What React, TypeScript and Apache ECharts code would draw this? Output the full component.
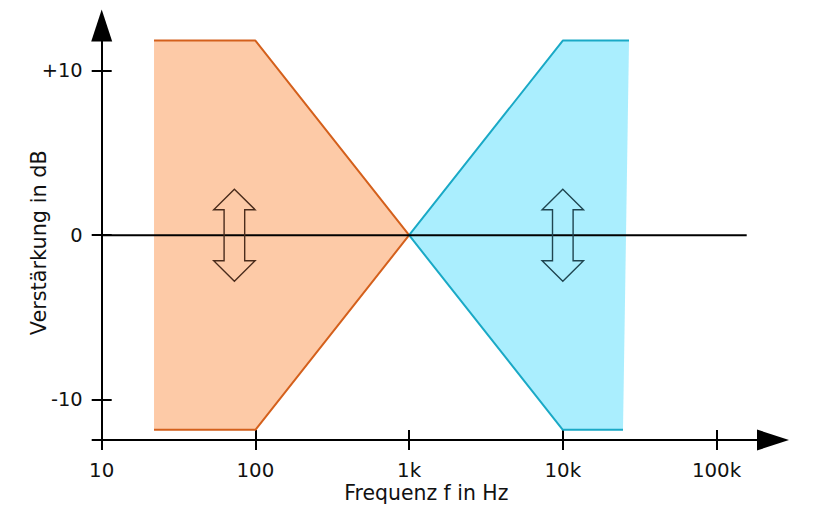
import React, { useEffect, useRef } from "react";
import * as echarts from "echarts";

// Frequency / gain outlines of the two shelving bands
const bassFreq = [21.9, 100, 1000, 100, 21.9];
const bassGain = [11.85, 11.85, 0, -11.85, -11.85];
const trebleFreq = [26960, 10000, 1000, 10000, 24640];
const trebleGain = [11.85, 11.85, 0, -11.85, -11.85];
// 0 dB reference line
const zeroFreq = [10, 157200];
const zeroGain = [0, 0];
// double arrow markers (centres)
const arrowFreq = [73, 10000];
const arrowGain = [0, 0];
// axes
const xTicks = [10, 100, 1000, 10000, 100000];
const yTicks = [-10, 0, 10];
const xMin = 10;
const xMax = 233100;
const yMin = -12.47;
const yMax = 12.77;

const FONT = "DejaVu Sans";

function pairs(xs: number[], ys: number[]) {
  return xs.map((x, i) => [x, ys[i]]);
}

function fmtFreq(v: number) {
  if (v >= 1000) return Math.round(v / 1000) + "k";
  return String(Math.round(v));
}

export default function App() {
  const ref = useRef<HTMLDivElement>(null);
  useEffect(() => {
    if (!ref.current) return;
    const chart = echarts.init(ref.current, null, { renderer: "svg" });
    const bass = pairs(bassFreq, bassGain);
    const treble = pairs(trebleFreq, trebleGain);
    const polyFill = (pts: number[][], fill: string) => ({
      type: "custom",
      coordinateSystem: "cartesian2d",
      xAxisIndex: 0,
      yAxisIndex: 0,
      silent: true,
      z: 1,
      data: pts,
      renderItem: (params: any, api: any) => {
        if (params.dataIndex !== 0) return null;
        return {
          type: "polygon",
          shape: { points: pts.map((p) => api.coord(p)) },
          style: { fill, stroke: "none" },
        };
      },
    });
    const outline = (pts: number[][], color: string) => ({
      type: "line",
      xAxisIndex: 0,
      yAxisIndex: 0,
      data: pts,
      symbol: "none",
      silent: true,
      z: 2,
      lineStyle: { color, width: 2 },
    });
    const hh = 46, hw = 20.7, sw = 10.3, hb = 25.5;
    const arrowShape = [
      [0, -hh], [hw, -hb], [sw, -hb], [sw, hb], [hw, hb], [0, hh],
      [-hw, hb], [-sw, hb], [-sw, -hb], [-hw, -hb],
    ];
    const arrowColors = ["#4a2c1c", "#1f4550"];

    const xAxisBase = {
      type: "log",
      logBase: 10,
      min: xMin,
      max: xMax,
      splitLine: { show: false },
      minorTick: { show: false },
    };
    const yAxisBase = {
      type: "value",
      min: yMin,
      max: yMax,
      position: "left",
      splitLine: { show: false },
    };

    chart.setOption({
      animation: false,
      backgroundColor: "#ffffff",
      grid: {
        left: 101.7,
        right: 46,
        top: 25.5,
        bottom: 72,
        containLabel: false,
        outerBoundsMode: "none",
      },
      xAxis: [
        {
          ...xAxisBase,
          position: "bottom",
          name: "Frequenz f in Hz",
          nameLocation: "middle",
          nameGap: 43.5,
          nameMoveOverlap: false,
          nameTextStyle: {
            fontFamily: FONT,
            fontSize: 20.4,
            lineHeight: 18,
            color: "#111",
            padding: [0, 22, 0, 0],
          },
          axisLine: {
            show: true,
            onZero: false,
            lineStyle: { color: "#000", width: 2 },
            symbol: ["none", "triangle"],
            symbolSize: [21, 32],
          },
          axisTick: {
            show: true,
            inside: false,
            length: 10,
            lineStyle: { color: "#000", width: 2 },
            customValues: xTicks,
          },
          axisLabel: {
            show: true,
            margin: 22,
            fontFamily: FONT,
            fontSize: 19.8,
            lineHeight: 16,
            color: "#111",
            customValues: xTicks,
            formatter: (v: number) => fmtFreq(v),
          },
        },
        {
          ...xAxisBase,
          position: "bottom",
          axisLine: { show: false, onZero: false },
          axisTick: {
            show: true,
            inside: true,
            length: 10,
            lineStyle: { color: "#000", width: 2 },
            customValues: xTicks,
          },
          axisLabel: { show: false },
        },
      ],
      yAxis: [
        {
          ...yAxisBase,
          name: "Verstärkung in dB",
          nameLocation: "middle",
          nameGap: 52,
          nameMoveOverlap: false,
          nameTextStyle: {
            fontFamily: FONT,
            fontSize: 20.8,
            color: "#111",
            padding: [0, 20, 0, 0],
          },
          axisLine: {
            show: true,
            onZero: false,
            lineStyle: { color: "#000", width: 2 },
            symbol: ["none", "triangle"],
            symbolSize: [21, 32],
          },
          axisTick: {
            show: true,
            inside: false,
            length: 10,
            lineStyle: { color: "#000", width: 2 },
            customValues: [yMin, ...yTicks],
          },
          axisLabel: {
            show: true,
            margin: 19,
            fontFamily: FONT,
            fontSize: 19.4,
            color: "#111",
            customValues: yTicks,
            formatter: (v: number) => (v > 0 ? "+" + v : String(v)),
          },
        },
        {
          ...yAxisBase,
          axisLine: { show: false, onZero: false },
          axisTick: {
            show: true,
            inside: true,
            length: 10,
            lineStyle: { color: "#000", width: 2 },
            customValues: yTicks,
          },
          axisLabel: { show: false },
        },
      ],
      series: [
        polyFill(bass, "#fdcaa7"),
        polyFill(treble, "#aaeefe"),
        outline(bass, "#d4601c"),
        outline(treble, "#1aa9c6"),
        {
          type: "line",
          xAxisIndex: 0,
          yAxisIndex: 0,
          data: pairs(zeroFreq, zeroGain),
          symbol: "none",
          silent: true,
          z: 3,
          lineStyle: { color: "#000", width: 2 },
        },
        {
          type: "custom",
          coordinateSystem: "cartesian2d",
          xAxisIndex: 0,
          yAxisIndex: 0,
          silent: true,
          z: 4,
          data: pairs(arrowFreq, arrowGain),
          renderItem: (params: any, api: any) => {
            const c = api.coord([api.value(0), api.value(1)]);
            return {
              type: "polygon",
              shape: { points: arrowShape.map((p) => [c[0] + p[0], c[1] + p[1]]) },
              style: {
                fill: "none",
                stroke: arrowColors[params.dataIndex],
                lineWidth: 1.4,
              },
            };
          },
        },
      ],
    });
    return () => chart.dispose();
  }, []);
  return <div ref={ref} style={{ width: 819, height: 512, position: "absolute", left: 0, top: 0 }} />;
}
